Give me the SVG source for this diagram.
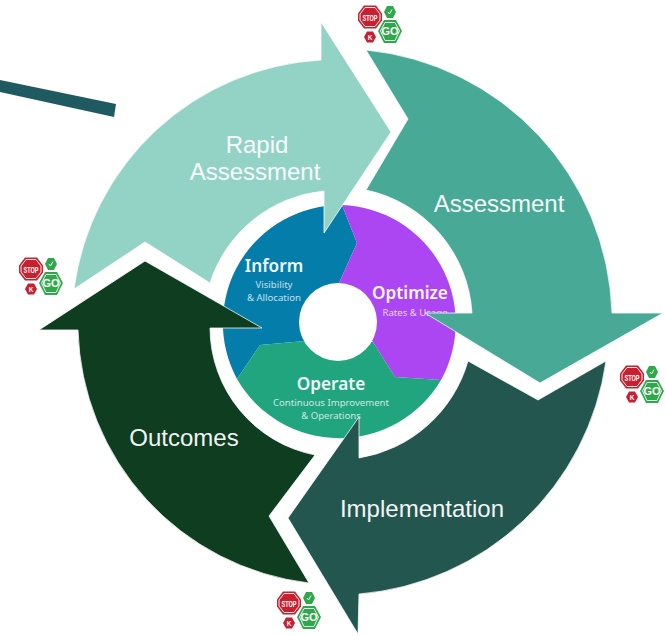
<svg xmlns="http://www.w3.org/2000/svg" xmlns:xlink="http://www.w3.org/1999/xlink" width="665" height="636" viewBox="0 0 665 636">
<style>
.big{font-family:"Liberation Sans",Arial,sans-serif;font-size:24px;fill:#fff;text-anchor:middle;opacity:.95}
.head{font-family:"Noto Sans","Open Sans",sans-serif;font-size:17.200px;font-weight:600;fill:#fff;text-anchor:middle;opacity:.95}
.sub{font-family:"Noto Sans","Open Sans",sans-serif;font-size:9.600px;fill:#fff;text-anchor:middle;opacity:.75}
.arrow{stroke:#fff;stroke-width:.75}
.sg{font-family:"Liberation Sans",Arial,sans-serif;font-weight:700;text-anchor:middle}
</style>
<defs>
<g id="signs">
<polygon points="-6,-11.500 6,-11.500 12,-3.500 12,3.500 6,11.500 -6,11.500 -12,3.500 -12,-3.500" fill="#c8202f"/>
<polygon points="-5,-9.500 5,-9.500 10,-3 10,3 5,9.500 -5,9.500 -10,3 -10,-3" fill="none" stroke="#fff" stroke-width=".9"/>
<text class="sg" x="0" y="3.500" font-size="9" fill="#fff" textLength="15" lengthAdjust="spacingAndGlyphs">STOP</text>
<polygon points="17,-11 23,-11 26,-5 23,1 17,1 14,-5" fill="#2ea84a"/>
<path d="M18,-5 L19.500,-3 L22,-7.500" fill="none" stroke="#fff" stroke-width="1"/>
<polygon points="-3,14.500 3,14.500 6,20 3,25.500 -3,25.500 -6,20" fill="#c8202f"/>
<text class="sg" x="0" y="22.500" font-size="6.500" fill="#fff">K</text>
<polygon points="14,3 26,3 32,14 26,26 14,26 8,14" fill="#2ea84a"/>
<polygon points="15,5.500 25,5.500 29.500,14 25,23.500 15,23.500 10.500,14" fill="none" stroke="#fff" stroke-width=".9"/>
<text class="sg" x="20" y="18" font-size="11" fill="#fff">GO</text>
</g>
</defs>
<g id="pie">
<path d="M342,205 A118,118 0 0 0 237,379 L260,345 L305,341 L339,283 L357,243 Z" fill="#047dab"/>
<path d="M342,205 A118,118 0 0 1 441,380 L395,377 L373,342 L339,283 L357,243 Z" fill="#ac45f2"/>
<path d="M237,379 A118,118 0 0 0 441,380 L395,377 L373,342 L305,341 L260,345 Z" fill="#20a57f"/>
<circle cx="338" cy="322" r="39" fill="#fff"/>
</g>
<g id="inform"><text class="head" x="274" y="272">Inform</text><text class="sub" x="274" y="288">Visibility</text><text class="sub" x="274" y="301">&amp; Allocation</text></g>
<g id="optimize"><text class="head" x="410" y="299">Optimize</text><text class="sub" x="415" y="316">Rates &amp; Usage</text></g>
<g id="operate"><text class="head" x="331" y="390">Operate</text><text class="sub" x="331" y="406">Continuous Improvement</text><text class="sub" x="331" y="419">&amp; Operations</text></g>
<g id="connectors">
<polygon points="0,80 116,104 114,117 0,92" fill="#1f5a61"/>
</g>
<g id="rapid-assessment">
<path class="arrow" fill="#93d3c5" d="M74,289 A264,264 0 0 1 321,60 L321,22 L391,132 L324,233 L324,191 A133,133 0 0 0 210,283 L145,242 Z"/>
<text class="big" x="257" y="153">Rapid</text><text class="big" x="255" y="180">Assessment</text>
</g>
<g id="assessment">
<path class="arrow" fill="#48a996" d="M366,50 A273,273 0 0 1 612,313 L663,313 L540,383 L425,313 L472,313 A134,134 0 0 0 366,190 L408,119 Z"/>
<text class="big" x="499" y="212">Assessment</text>
</g>
<g id="implementation">
<path class="arrow" fill="#23564f" d="M468,361 L538,400 L606,361 A272,272 0 0 1 359,594 L358,634 L288,518 L359,417 L359,458 A136,136 0 0 0 468,361 Z"/>
<text class="big" x="422" y="517">Implementation</text>
</g>
<g id="outcomes">
<path class="arrow" fill="#0e3d20" d="M145,261 L262,328 L210,328 A130,130 0 0 0 315,455 L269,516 L309,583 A262,262 0 0 1 78,330 L39,330 Z"/>
<text class="big" x="184" y="446">Outcomes</text>
</g>
<g id="signs-assessment"><use xlink:href="#signs" href="#signs" x="370" y="17"/></g>
<g id="signs-rapid"><use xlink:href="#signs" href="#signs" x="31" y="269"/></g>
<g id="signs-implementation"><use xlink:href="#signs" href="#signs" x="632" y="377"/></g>
<g id="signs-outcomes"><use xlink:href="#signs" href="#signs" x="289" y="603"/></g>
</svg>
